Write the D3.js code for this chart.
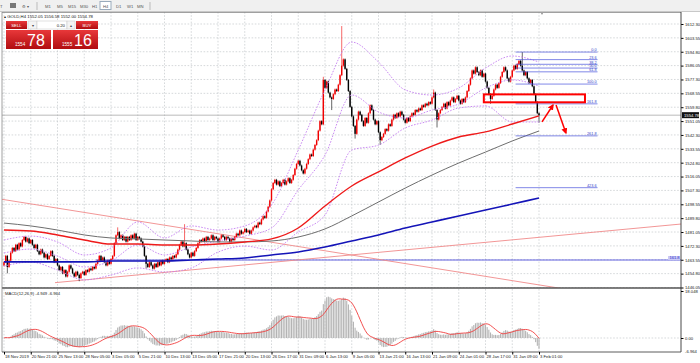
<!DOCTYPE html>
<html>
<head>
<meta charset="utf-8">
<script src="https://cdn.jsdelivr.net/npm/d3@7"></script>
<style>
  html, body { margin: 0; padding: 0; background: #fff; }
  svg { display: block; font-family: "Liberation Sans", Arial, sans-serif; }
</style>
</head>
<body>
<div id="chart"></div>
<script>
// GOLD H4 chart (MT4 style) with MAs, Bollinger bands, fibo and MACD

// H4 closes, bar 0 = 18 Nov 2019, one bar per 4 hours (opens = previous close)
const closes = [
  1462,1466,1459,1463,1468,1471,1469,1473,1470,1474,1472,1476,1478,1475,1477,1474,1476,1473,
  1471,1473,1469,1467,1470,1468,1465,1467,1464,1466,
  1469,1466,1462,1464,1460,1457,1459,1455,1457,1453,
  1456,1460,1458,1455,1453,1456,1454,1452,1455,
  1456,1454,1457,1456,1458,1457,1459,1458,1461,1463,1466,
  1463,1465,1462,1460,1463,1461,1464,1466,
  1474,1479,
  1481,1477,1479,1476,1478,1475,1478,1476,1479,1477,1480,1476,1478,1477,
  1475,1472,1466,1461,
  1459,1462,1460,1458,1461,1459,1462,1460,1463,1461,
  1463,1464,1462,1465,1464,1466,1465,1467,
  1470,1473,1475,1472,1474,
  1470,1467,1465,1468,1466,1469,
  1471,1474,1476,1475,
  1477,1475,1478,1476,1477,1479,1476,1478,1477,1475,1477,1479,1478,1476,1478,1477,1475,1477,1476,1478,1480,
  1479,1482,1480,1481,1483,1481,1482,1480,1482,1484,
  1485,1484,1487,1486,1489,1491,1490,1494,1497,1501,
  1508,1512,
  1514,1511,1513,1510,1512,1514,1511,1513,1515,1512,1514,
  1517,1521,1524,1526,1523,1520,1518,1521,
  1524,1527,1530,1529,1533,1536,1539,
  1545,1551,1549,
  1577,
  1572,1576,1569,1566,1565,
  1568,1571,1570,1574,1580,
  1586,1590,1584,
  1577,1570,1560,1554,
  1548,1543,
  1552,1557,1555,
  1551,1548,1553,1550,
  1556,1561,1558,
  1552,1549,1551,
  1544,1539,1541,
  1543,1546,1545,1549,1548,1552,
  1555,1553,1556,1554,1557,1555,
  1552,1550,1553,1551,1554,
  1556,1555,1558,1557,1559,1558,
  1561,1560,1562,1561,1563,1562,
  1566,1569,
  1558,1552,
  1556,1558,
  1560,1562,1559,1563,1561,1564,1566,1563,1565,1567,1564,1562,1565,1563,
  1566,1570,1574,1578,1583,1581,1585,1582,1580,1583,
  1579,1581,1576,1572,
  1568,1565,1567,
  1571,1574,1572,1575,
  1579,1582,1585,1583,
  1578,1576,1579,
  1583,1586,1584,
  1587,1589,1586,
  1583,1580,1582,
  1578,1575,1577,1573,
  1568,1563,
  1556,1554.78
];
const firstOpen = 1460;

// long wicks that stand out
const wickHighBars = [68, 108, 191, 202, 257, 310];
const wickHighs    = [1484, 1486, 1579, 1611, 1571, 1594.6];
const wickLowBars  = [2, 45, 85, 196, 210, 225, 259, 291, 320];
const wickLows     = [1455, 1450, 1458, 1558, 1540, 1536, 1547, 1562, 1550];

// indicator values read at every 16th bar
const anchorBars = [0,16,32,48,64,80,96,112,128,144,160,176,192,208,224,240,256,272,288,304,320];
const maRed  = [1482.3,1481.7,1479.2,1476.0,1473.5,1473.5,1472.9,1472.9,1473.5,1474.8,1476.7,1483.6,1497.5,1510.1,1519.0,1527.8,1535.3,1541.0,1544.2,1549.2,1554.3];
const maGrey = [1486.7,1484.9,1482.3,1479.2,1477.3,1476.7,1476.0,1475.4,1474.8,1474.8,1475.4,1477.9,1483.0,1491.2,1500.0,1508.8,1517.0,1524.6,1531.5,1538.5,1544.8];
const maBlue = [1462.2,1462.2,1462.2,1462.2,1462.8,1462.8,1462.8,1463.4,1464.0,1464.7,1466.6,1468.5,1471.6,1475.4,1479.2,1483.6,1487.4,1491.2,1494.9,1498.7,1502.5];
const bbUpper  = [1476.0,1478.5,1474.8,1466.6,1471.0,1487.4,1477.3,1484.9,1482.3,1484.9,1498.1,1532.8,1570.7,1600.9,1588.3,1570.7,1567.5,1571.9,1584.5,1592.1,1588.3];
const bbMiddle = [1467.8,1470.3,1465.9,1459.0,1462.8,1472.9,1466.6,1471.6,1475.4,1478.5,1483.6,1507.6,1529.6,1567.5,1556.8,1553.0,1558.0,1561.8,1571.9,1577.0,1573.2];
const bbLower  = [1459.6,1462.1,1457.1,1450.8,1453.9,1458.4,1455.8,1458.4,1468.4,1472.2,1469.7,1481.1,1491.8,1532.8,1535.9,1546.7,1551.7,1559.3,1560.6,1550.5,1550.5];

// axis labels
const priceTicks = [1612.30,1603.55,1594.80,1586.05,1577.30,1568.55,1559.80,1551.05,1542.30,1533.55,
                    1524.80,1516.05,1507.30,1498.55,1489.80,1481.05,1472.30,1463.55,1454.80,1446.05];
const xLabels = ['18 Nov 2019','20 Nov 21:00','25 Nov 13:00','28 Nov 05:00','3 Dec 05:00','5 Dec 21:00',
                 '10 Dec 13:00','13 Dec 05:00','17 Dec 21:00','20 Dec 13:00','26 Dec 17:00','31 Dec 09:00',
                 '6 Jan 13:00','9 Jan 05:00','13 Jan 21:00','16 Jan 13:00','21 Jan 09:00','24 Jan 01:00',
                 '28 Jan 17:00','31 Jan 09:00','3 Feb 01:00'];
const lastPrice = 1554.78;
const macdTicks = [18.048, 0];

// drawn objects: [bar1, price1, bar2, price2]
const trendLines = [[-3, 1502, 336, 1445], [30.5, 1449.1, 405, 1486.1]];
const levelLine = { bar: 55, price: 1463.4, label: '161.8' };
const fibLevels = [0, 23.6, 38.2, 50, 61.8, 100, 161.8, 261.8, 423.6];
const fibHigh = 1594.6, fibLow = 1574.4, fibBars = [306, 355];
const zoneRect = [287, 1567.9, 347.5, 1562.9];
const arrows = [[321.8, 1550.5, 328.4, 1561.2], [330.2, 1561.2, 336.1, 1543.5]];

// ---------------------------------------------------------------
const W = 700, H = 363;
const L = 2, R = 681, mainTop = 12, mainBot = 288, macdTop = 289, macdBot = 352;

const svg = d3.select('#chart').append('svg')
    .attr('width', W).attr('height', H);

const defs = svg.append('defs');
defs.append('clipPath').attr('id', 'clipMain').append('rect')
    .attr('x', L).attr('y', mainTop).attr('width', R - L).attr('height', mainBot - mainTop);
defs.append('clipPath').attr('id', 'clipMacd').append('rect')
    .attr('x', L).attr('y', macdTop).attr('width', R - L).attr('height', macdBot - macdTop);
const grad = defs.append('linearGradient').attr('id', 'redGrad').attr('x1', 0).attr('y1', 0).attr('x2', 0).attr('y2', 1);
grad.append('stop').attr('offset', '0%').attr('stop-color', '#e8383a');
grad.append('stop').attr('offset', '100%').attr('stop-color', '#b10d10');
defs.append('marker').attr('id', 'arrowHead')
    .attr('viewBox', '0 0 10 10').attr('refX', 8).attr('refY', 5)
    .attr('markerWidth', 4).attr('markerHeight', 4).attr('orient', 'auto')
    .append('path').attr('d', 'M0,0 L10,5 L0,10 z').attr('fill', '#f00');

// scales
const x = d3.scaleLinear().domain([0, 320]).range([4, 539]);
const y = d3.scaleLinear().domain([1446.05, 1612.30]).range([287.5, 24]);
const yM = d3.scaleLinear().domain([0, 18.048]).range([338, 291]);

// toolbar
svg.append('rect').attr('width', W).attr('height', 11).attr('fill', '#f0f0f0');
svg.append('line').attr('x1', 0).attr('x2', W).attr('y1', 11.5).attr('y2', 11.5).attr('stroke', '#c8c8c8');
const tb = svg.append('g').style('font-size', '4.2px').attr('fill', '#555');
tb.append('text').attr('x', 0).attr('y', 7.5).text('T');
tb.append('rect').attr('x', 10).attr('y', 3).attr('width', 6).attr('height', 5).attr('fill', '#777');
tb.append('text').attr('x', 22).attr('y', 7.5).text('⚙ ▾');
[37, 150].forEach(sx => tb.append('line').attr('x1', sx).attr('x2', sx).attr('y1', 2).attr('y2', 10).attr('stroke', '#bbb'));
const periods = ['M1','M5','M15','M30','H1','H4','D1','W1','MN'];
const periodX = [45, 57, 68, 80, 92, 103, 116, 127, 137];
periods.forEach((p, i) => {
    if (p === 'H4') {
        tb.append('rect').attr('x', periodX[i] - 3).attr('y', 1.5).attr('width', 11).attr('height', 8)
            .attr('fill', '#fff').attr('stroke', '#9ab');
    }
    tb.append('text').attr('x', periodX[i]).attr('y', 7.5).text(p);
});

// chart background and frame
svg.append('rect').attr('x', L).attr('y', mainTop).attr('width', R - L).attr('height', macdBot - mainTop)
    .attr('fill', '#fff');

// grid
const grid = svg.append('g').attr('stroke', '#c4c8cc').attr('stroke-width', 0.7).attr('stroke-dasharray', '1.6,1.6');
priceTicks.forEach(p => {
    grid.append('line').attr('x1', L).attr('x2', R).attr('y1', y(p)).attr('y2', y(p));
});
xLabels.forEach((lab, i) => {
    const gx = x(i * 16);
    grid.append('line').attr('x1', gx).attr('x2', gx).attr('y1', mainTop).attr('y2', mainBot);
    grid.append('line').attr('x1', gx).attr('x2', gx).attr('y1', macdTop).attr('y2', macdBot);
});
grid.append('line').attr('x1', L).attr('x2', R).attr('y1', yM(0)).attr('y2', yM(0));

// main panel
const main = svg.append('g').attr('clip-path', 'url(#clipMain)');

// current price line
main.append('line').attr('x1', L).attr('x2', R).attr('y1', y(lastPrice)).attr('y2', y(lastPrice))
    .attr('stroke', '#a8a8a8').attr('stroke-width', 0.8);

// blue level line
main.append('line').attr('x1', x(levelLine.bar)).attr('x2', R)
    .attr('y1', y(levelLine.price)).attr('y2', y(levelLine.price))
    .attr('stroke', '#3b3bd8').attr('stroke-width', 0.8);
main.append('rect').attr('x', R - 13).attr('y', y(levelLine.price) - 4).attr('width', 12).attr('height', 4)
    .attr('fill', '#c9c9f6');
main.append('text').attr('x', R - 1.5).attr('y', y(levelLine.price) - 0.8)
    .attr('text-anchor', 'end').style('font-size', '4px').attr('fill', '#2d2dc8').text(levelLine.label);

// trend lines
trendLines.forEach(t => {
    main.append('line').attr('x1', x(t[0])).attr('y1', y(t[1])).attr('x2', x(t[2])).attr('y2', y(t[3]))
        .attr('stroke', '#f08a8a').attr('stroke-width', 0.9);
});

// candles
const candles = main.append('g');
closes.forEach((c, i) => {
    const o = i === 0 ? firstOpen : closes[i - 1];
    let hi = Math.max(o, c) + 0.6;
    let lo = Math.min(o, c) - 0.6;
    const hIdx = wickHighBars.indexOf(i);
    if (hIdx >= 0) hi = wickHighs[hIdx];
    const lIdx = wickLowBars.indexOf(i);
    if (lIdx >= 0) lo = wickLows[lIdx];
    const col = c >= o ? '#f00000' : '#000';
    candles.append('line').attr('x1', x(i)).attr('x2', x(i)).attr('y1', y(hi)).attr('y2', y(lo))
        .attr('stroke', col).attr('stroke-width', 0.6);
    const top = y(Math.max(o, c)), bot = y(Math.min(o, c));
    candles.append('rect').attr('x', x(i) - 0.7).attr('width', 1.4)
        .attr('y', top).attr('height', Math.max(0.6, bot - top)).attr('fill', col);
});

// bollinger bands
const bandLine = d3.line().x((d, i) => x(anchorBars[i])).y(d => y(d)).curve(d3.curveMonotoneX);
[bbUpper, bbMiddle, bbLower].forEach(b => {
    main.append('path').attr('d', bandLine(b)).attr('fill', 'none')
        .attr('stroke', '#c47ef0').attr('stroke-width', 0.9).attr('stroke-dasharray', '1.6,1.4');
});

// moving averages
main.append('path').attr('d', bandLine(maGrey)).attr('fill', 'none').attr('stroke', '#6e6e6e').attr('stroke-width', 1);
main.append('path').attr('d', bandLine(maBlue)).attr('fill', 'none').attr('stroke', '#1414b8').attr('stroke-width', 1.6);
main.append('path').attr('d', bandLine(maRed)).attr('fill', 'none').attr('stroke', '#ee1a1a').attr('stroke-width', 1.4);

// fibonacci levels
const fib = main.append('g');
fibLevels.forEach(lvl => {
    const p = fibHigh - (fibHigh - fibLow) * lvl / 100;
    fib.append('line').attr('x1', x(fibBars[0])).attr('x2', x(fibBars[1])).attr('y1', y(p)).attr('y2', y(p))
        .attr('stroke', '#4a55dc').attr('stroke-width', 0.7);
    fib.append('text').attr('x', x(fibBars[1]) - 1).attr('y', y(p) - 0.7).attr('text-anchor', 'end')
        .style('font-size', '3.8px').attr('fill', '#3340c8').text(d3.format('.1f')(lvl));
});

// zone rectangle and arrows
main.append('rect')
    .attr('x', x(zoneRect[0])).attr('y', y(zoneRect[1]))
    .attr('width', x(zoneRect[2]) - x(zoneRect[0])).attr('height', y(zoneRect[3]) - y(zoneRect[1]))
    .attr('fill', 'none').attr('stroke', '#f00').attr('stroke-width', 2);
arrows.forEach(a => {
    main.append('line').attr('x1', x(a[0])).attr('y1', y(a[1])).attr('x2', x(a[2])).attr('y2', y(a[3]))
        .attr('stroke', '#f00').attr('stroke-width', 1.5).attr('marker-end', 'url(#arrowHead)');
});

// MACD
function ema(arr, n) {
    const k = 2 / (n + 1);
    let e = arr[0];
    return arr.map(v => (e = e + k * (v - e)));
}
const emaFast = ema(closes, 12), emaSlow = ema(closes, 26);
const macd = closes.map((c, i) => emaFast[i] - emaSlow[i]);
const signal = macd.map((m, i) => d3.mean(macd.slice(Math.max(0, i - 8), i + 1)));

const mg = svg.append('g').attr('clip-path', 'url(#clipMacd)');
macd.forEach((m, i) => {
    mg.append('rect').attr('x', x(i) - 0.55).attr('width', 1.1)
        .attr('y', Math.min(yM(0), yM(m))).attr('height', Math.abs(yM(m) - yM(0)))
        .attr('fill', '#b4b4b4');
});
mg.append('path').attr('d', d3.line().x((d, i) => x(i)).y(d => yM(d))(signal))
    .attr('fill', 'none').attr('stroke', '#f03c3c').attr('stroke-width', 0.9);

svg.append('text').attr('x', 5).attr('y', 295).style('font-size', '4.2px').attr('fill', '#222')
    .text('MACD(12,26,9) -4.949 -6.964');

// panel borders
svg.append('line').attr('x1', L).attr('x2', R).attr('y1', mainBot).attr('y2', mainBot)
    .attr('stroke', '#555').attr('stroke-width', 1.4);
svg.append('line').attr('x1', L).attr('x2', R).attr('y1', mainTop + 0.5).attr('y2', mainTop + 0.5)
    .attr('stroke', '#888').attr('stroke-width', 0.8);
svg.append('line').attr('x1', L).attr('x2', L).attr('y1', mainTop).attr('y2', macdBot)
    .attr('stroke', '#888').attr('stroke-width', 0.8);
svg.append('line').attr('x1', L).attr('x2', R).attr('y1', macdBot).attr('y2', macdBot)
    .attr('stroke', '#333').attr('stroke-width', 0.8);
svg.append('path').attr('d', `M${x(320) + 2},13 l2,0 l-1,2 z`).attr('fill', '#888');

// right price axis
const yAxis = d3.axisRight(y).tickValues(priceTicks).tickSize(2.5).tickFormat(d3.format('.2f'));
const yAxisG = svg.append('g').attr('transform', `translate(${R},0)`).call(yAxis);
yAxisG.select('.domain').remove();
yAxisG.selectAll('text').style('font-size', '4.2px').attr('fill', '#222').attr('x', 4);
svg.append('line').attr('x1', R).attr('x2', R).attr('y1', mainTop).attr('y2', macdBot)
    .attr('stroke', '#333').attr('stroke-width', 0.9);

// last price tag
svg.append('rect').attr('x', R + 1).attr('y', y(lastPrice) - 3).attr('width', 17).attr('height', 6).attr('fill', '#111');
svg.append('text').attr('x', R + 3).attr('y', y(lastPrice) + 1.5).style('font-size', '4.2px')
    .attr('fill', '#fff').text(lastPrice.toFixed(2));

// MACD axis labels
const mAxis = d3.axisRight(yM).tickValues(macdTicks).tickSize(2.5)
    .tickFormat(d => d === 0 ? '0.00' : d3.format('.3f')(d));
const mAxisG = svg.append('g').attr('transform', `translate(${R},0)`).call(mAxis);
mAxisG.select('.domain').remove();
mAxisG.selectAll('text').style('font-size', '4.2px').attr('fill', '#222').attr('x', 4);
svg.append('text').attr('x', R + 4).attr('y', macdBot + 1).style('font-size', '4.2px').attr('fill', '#222').text('-6.964');

// time axis
const xAxis = d3.axisBottom(x).tickValues(xLabels.map((d, i) => i * 16)).tickSize(2.5)
    .tickFormat((d, i) => xLabels[i]);
const xAxisG = svg.append('g').attr('transform', `translate(0,${macdBot})`).call(xAxis);
xAxisG.select('.domain').remove();
xAxisG.selectAll('text').style('font-size', '4.2px').attr('fill', '#222')
    .attr('text-anchor', 'start').attr('dx', '0.5').attr('y', 3.5);

// one-click trading panel
const tp = svg.append('g');
tp.append('text').attr('x', 4).attr('y', 17.5).style('font-size', '4.3px').attr('fill', '#111')
    .text('▴ GOLD,H4  1552.05 1556.58 1552.00 1554.78');
tp.append('rect').attr('x', 6).attr('y', 21).attr('width', 21).attr('height', 8).attr('fill', 'url(#redGrad)');
tp.append('text').attr('x', 16.5).attr('y', 26.6).attr('text-anchor', 'middle').style('font-size', '4.3px').attr('fill', '#fff').text('SELL');
tp.append('rect').attr('x', 28).attr('y', 21).attr('width', 9).attr('height', 8).attr('fill', '#f4f4f4').attr('stroke', '#c4c4c4').attr('stroke-width', 0.5);
tp.append('text').attr('x', 32.5).attr('y', 26.6).attr('text-anchor', 'middle').style('font-size', '4px').attr('fill', '#444').text('▾');
tp.append('rect').attr('x', 37).attr('y', 21).attr('width', 30).attr('height', 8).attr('fill', '#fff').attr('stroke', '#c4c4c4').attr('stroke-width', 0.5);
tp.append('text').attr('x', 65).attr('y', 26.6).attr('text-anchor', 'end').style('font-size', '4.3px').attr('fill', '#222').text('0.20');
tp.append('rect').attr('x', 67).attr('y', 21).attr('width', 8).attr('height', 8).attr('fill', '#f4f4f4').attr('stroke', '#c4c4c4').attr('stroke-width', 0.5);
tp.append('text').attr('x', 71).attr('y', 26.6).attr('text-anchor', 'middle').style('font-size', '4px').attr('fill', '#444').text('▴');
tp.append('rect').attr('x', 76).attr('y', 21).attr('width', 22).attr('height', 8).attr('fill', 'url(#redGrad)');
tp.append('text').attr('x', 87).attr('y', 26.6).attr('text-anchor', 'middle').style('font-size', '4.3px').attr('fill', '#fff').text('BUY');
[[6, '1554', '78'], [53, '1555', '16']].forEach(b => {
    tp.append('rect').attr('x', b[0]).attr('y', 30).attr('width', 45).attr('height', 19).attr('fill', 'url(#redGrad)');
    tp.append('text').attr('x', b[0] + 9).attr('y', 45.5).style('font-size', '4.6px').attr('fill', '#fff').text(b[1]);
    tp.append('text').attr('x', b[0] + 21).attr('y', 46).style('font-size', '16px').attr('fill', '#fff').text(b[2]);
});
</script>
</body>
</html>
